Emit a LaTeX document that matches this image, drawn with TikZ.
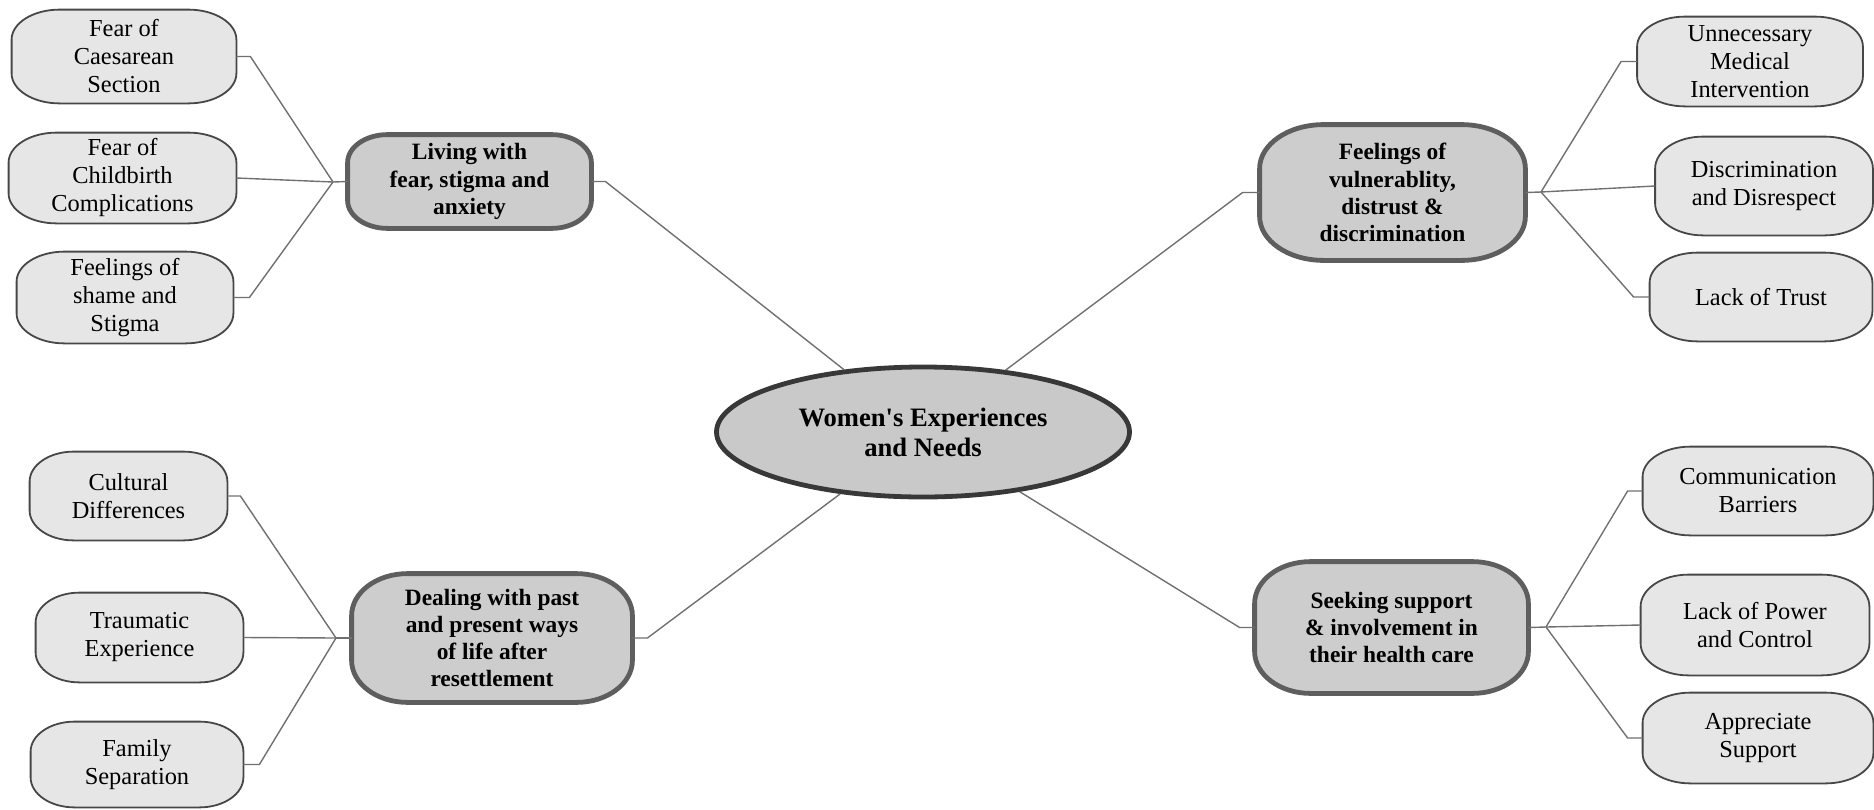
\documentclass[tikz,border=0pt]{standalone}
\usepackage{fontspec}
\setmainfont{Liberation Serif}
\usetikzlibrary{shapes.geometric,backgrounds}
\definecolor{subfill}{HTML}{E6E6E6}
\definecolor{subline}{HTML}{474747}
\definecolor{mainfill}{HTML}{CDCDCD}
\definecolor{mainline}{HTML}{5E5E5E}
\definecolor{hubfill}{HTML}{C9C9C9}
\definecolor{hubline}{HTML}{383838}
\definecolor{linkcol}{HTML}{707070}
\tikzset{
  subtext/.style={inner sep=0pt, align=center, font=\fontsize{12.2}{14}\selectfont},
  maintext/.style={inner sep=0pt, align=center, font=\fontsize{11.7}{13.6}\selectfont\bfseries},
  subshape/.style={draw=subline, line width=0.9pt, fill=subfill},
  mainshape/.style={draw=mainline, line width=2.4pt, fill=mainfill},
  hub/.style={ellipse, draw=hubline, line width=2.4pt, fill=hubfill, inner sep=0pt,
    align=center, font=\fontsize{13.3}{15}\selectfont\bfseries},
  link/.style={draw=linkcol, line width=0.7pt},
}
% rounded box with elliptical corners around node #2
\newcommand{\ebox}[4]{%
  \path[#1] ([xshift=#3]#2.north west) -- ([xshift=-#3]#2.north east)
    arc[start angle=90,end angle=0,x radius=#3,y radius=#4]
    -- ([yshift=#4]#2.south east)
    arc[start angle=0,end angle=-90,x radius=#3,y radius=#4]
    -- ([xshift=#3]#2.south west)
    arc[start angle=270,end angle=180,x radius=#3,y radius=#4]
    -- ([yshift=-#4]#2.north west)
    arc[start angle=180,end angle=90,x radius=#3,y radius=#4] -- cycle;}
\begin{document}
\begin{tikzpicture}[x=0.5pt,y=-0.5pt]
\useasboundingbox (0,0) rectangle (1874,809);
% hub
\node[hub, minimum width=206.5pt, minimum height=65pt] (c) at (923,432) {Women\textquotesingle s Experiences\\and Needs};
% main themes
\node[maintext, minimum width=121.5pt, minimum height=46.5pt] (living) at (469.5,181.5) {Living with\\fear, stigma and\\anxiety};
\node[maintext, minimum width=132.5pt, minimum height=67.5pt] (vuln) at (1392.5,192.5) {Feelings of\\vulnerablity,\\distrust \&\\discrimination};
\node[maintext, minimum width=140pt, minimum height=64pt] (deal) at (492,638) {Dealing with past\\and present ways\\of life after\\resettlement};
\node[maintext, minimum width=136.5pt, minimum height=65.5pt] (seek) at (1391.5,627.5) {Seeking support\\\& involvement in\\their health care};
% sub themes left top
\node[subtext, minimum width=112pt, minimum height=46.5pt] (caes) at (124,56.5) {Fear of\\Caesarean\\Section};
\node[subtext, minimum width=113.5pt, minimum height=45pt] (child) at (122.5,178) {Fear of\\Childbirth\\Complications};
\node[subtext, minimum width=108pt, minimum height=45.5pt] (shame) at (125,297.5) {Feelings of\\shame and\\Stigma};
% right top
\node[subtext, minimum width=112.5pt, minimum height=44.5pt] (unnec) at (1750,61.5) {Unnecessary\\Medical\\Intervention};
\node[subtext, minimum width=108.5pt, minimum height=49pt] (discr) at (1764,186) {Discrimination\\and Disrespect};
\node[subtext, minimum width=111pt, minimum height=44pt] (trust) at (1761,297) {Lack of Trust};
% left bottom
\node[subtext, minimum width=98.5pt, minimum height=44pt] (cult) at (128.5,496) {Cultural\\Differences};
\node[subtext, minimum width=103.5pt, minimum height=44.5pt] (traum) at (139.5,637.5) {Traumatic\\Experience};
\node[subtext, minimum width=106pt, minimum height=42.5pt] (fam) at (137,764.5) {Family\\Separation};
% right bottom
\node[subtext, minimum width=115pt, minimum height=44pt] (comm) at (1758,491) {Communication\\Barriers};
\node[subtext, minimum width=114pt, minimum height=50pt] (power) at (1755,625) {Lack of Power\\and Control};
\node[subtext, minimum width=115pt, minimum height=45pt] (appr) at (1758,738) {Appreciate\\Support};
% box outlines behind the texts
\begin{scope}[on background layer]
\ebox{mainshape}{living}{20pt}{14pt}
\ebox{mainshape}{vuln}{32pt}{22pt}
\ebox{mainshape}{deal}{28pt}{21pt}
\ebox{mainshape}{seek}{28pt}{21pt}
\ebox{subshape}{caes}{24pt}{15pt}
\ebox{subshape}{child}{24pt}{15pt}
\ebox{subshape}{shame}{24pt}{15pt}
\ebox{subshape}{unnec}{24pt}{15pt}
\ebox{subshape}{discr}{24pt}{16pt}
\ebox{subshape}{trust}{24pt}{15pt}
\ebox{subshape}{cult}{22pt}{15pt}
\ebox{subshape}{traum}{22pt}{15pt}
\ebox{subshape}{fam}{22pt}{15pt}
\ebox{subshape}{comm}{24pt}{15pt}
\ebox{subshape}{power}{24pt}{16pt}
\ebox{subshape}{appr}{24pt}{15pt}
\end{scope}
% junctions
\coordinate (j1) at (333,182);
\coordinate (j2) at (1541,192);
\coordinate (j3) at (336,638);
\coordinate (j4) at (1546,627);
% connectors top-left
\draw[link] (caes.east) -- ++(14,0) -- (j1);
\draw[link] (child.east) -- (j1);
\draw[link] (shame.east) -- ++(16,0) -- (j1);
\draw[link] (j1) -- (living.west);
\draw[link] (living.east) -- ++(14,0) -- (c);
% top-right
\draw[link] (unnec.west) -- ++(-16,0) -- (j2);
\draw[link] (j2) -- (discr.west);
\draw[link] (trust.west) -- ++(-16,0) -- (j2);
\draw[link] (vuln.east) -- (j2);
\draw[link] (vuln.west) -- ++(-17,0) -- (c);
% bottom-left
\draw[link] (cult.east) -- ++(13,0) -- (j3);
\draw[link] (traum.east) -- (j3);
\draw[link] (fam.east) -- ++(16,0) -- (j3);
\draw[link] (j3) -- (deal.west);
\draw[link] (deal.east) -- ++(15,0) -- (c);
% bottom-right
\draw[link] (comm.west) -- ++(-15,0) -- (j4);
\draw[link] (j4) -- (power.west);
\draw[link] (appr.west) -- ++(-15,0) -- (j4);
\draw[link] (seek.east) -- (j4);
\draw[link] (seek.west) -- ++(-15,0) -- (c);
\end{tikzpicture}
\end{document}
